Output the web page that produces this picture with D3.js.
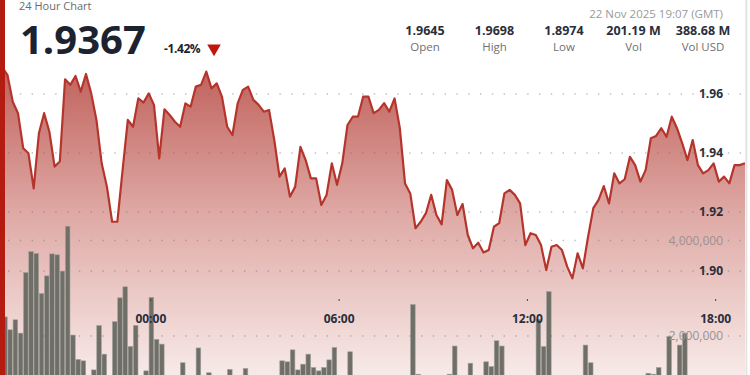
<!DOCTYPE html>
<html>
<head>
<meta charset="utf-8">
<script src="https://cdn.jsdelivr.net/npm/d3@7"></script>
<style>
  body { margin: 0; background: #fff; }
  svg { display: block; font-family: "Open Sans", sans-serif; }
</style>
</head>
<body>
<div id="chart"></div>
<script>
// price every 10 minutes
const prices = [
  1.9690, 1.9664, 1.9574, 1.9535, 1.9416, 1.9399, 1.9280, 1.9467, 1.9535, 1.9472,
  1.9354, 1.9371, 1.9650, 1.9631, 1.9661, 1.9608, 1.9668, 1.9602, 1.9512, 1.9365,
  1.9286, 1.9167, 1.9167, 1.9342, 1.9512, 1.9489, 1.9585, 1.9571, 1.9602, 1.9563,
  1.9382, 1.9548, 1.9529, 1.9506, 1.9489, 1.9568, 1.9557, 1.9625, 1.9631, 1.9676,
  1.9619, 1.9636, 1.9591, 1.9489, 1.9461, 1.9568, 1.9614, 1.9625, 1.9580, 1.9563,
  1.9540, 1.9546, 1.9444, 1.9320, 1.9348, 1.9252, 1.9286, 1.9421, 1.9376, 1.9314,
  1.9314, 1.9224, 1.9258, 1.9365, 1.9292, 1.9365, 1.9495, 1.9523, 1.9523, 1.9591,
  1.9591, 1.9535, 1.9546, 1.9569, 1.9540, 1.9585, 1.9485, 1.9297, 1.9263, 1.9145,
  1.9167, 1.9196, 1.9258, 1.9190, 1.9158, 1.9308, 1.9275, 1.9190, 1.9227, 1.9122,
  1.9077, 1.9096, 1.9063, 1.9071, 1.9150, 1.9162, 1.9263, 1.9275, 1.9258, 1.9229,
  1.9088, 1.9128, 1.9122, 1.9088, 1.9003, 1.9082, 1.9088, 1.9071, 1.9015, 1.8975,
  1.9060, 1.9009, 1.9116, 1.9213, 1.9241, 1.9288, 1.9229, 1.9331, 1.9297, 1.9311,
  1.9387, 1.9359, 1.9303, 1.9342, 1.9450, 1.9458, 1.9484, 1.9455, 1.9523, 1.9484,
  1.9433, 1.9376, 1.9444, 1.9359, 1.9331, 1.9342, 1.9365, 1.9303, 1.9320, 1.9297,
  1.9359, 1.9359, 1.9365
];

// volume per 10 minutes, millions
const volumes = [
  2.40, 2.13, 2.34, 2.06, 3.33, 3.77, 3.73, 2.89, 3.26, 3.72,
  3.70, 3.36, 4.30, 2.02, 1.51, 1.48, 0.95, 1.29, 2.22, 1.62,
  0.85, 2.30, 2.80, 3.03, 1.78, 2.22, 0.90, 1.27, 2.81, 1.93,
  1.83, 0.75, 0.80, 0.65, 1.44, 0.90, 0.70, 1.75, 0.80, 1.23,
  0.60, 0.90, 0.70, 1.30, 0.80, 0.60, 1.32, 0.50, 0.70, 0.60,
  0.80, 0.55, 0.90, 1.48, 1.46, 1.71, 1.29, 1.41, 1.62, 1.34,
  1.27, 1.34, 1.50, 1.76, 0.90, 0.80, 1.67, 0.70, 0.60, 0.85,
  0.50, 0.75, 0.65, 0.90, 0.55, 0.70, 0.80, 1.00, 2.66, 1.20,
  0.90, 0.70, 0.85, 0.60, 0.95, 1.20, 1.79, 0.90, 0.80, 1.43,
  0.95, 1.05, 1.46, 1.36, 1.90, 1.79, 0.90, 0.70, 0.85, 0.60,
  0.90, 1.00, 2.35, 1.78, 2.93, 0.95, 0.80, 0.70, 0.90, 1.05,
  0.85, 1.81, 1.44, 0.90, 0.70, 0.60, 0.85, 0.75, 0.90, 0.65,
  0.80, 0.70, 0.95, 1.22, 1.20, 1.34, 0.95, 1.99, 1.05, 1.81,
  2.06, 0.90, 0.80, 0.70, 0.95, 0.85, 0.75, 0.90, 1.00, 0.80,
  0.95, 0.85, 0.90
];

const startTime = new Date(2025, 10, 21, 19, 17);
const stepMinutes = 10;

const priceTicks = [1.90, 1.92, 1.94, 1.96];
const volumeTicks = [2000000, 4000000];
const timeTicks = ["00:00", "06:00", "12:00", "18:00"];

const statValues = ["1.9645", "1.9698", "1.8974", "201.19 M", "388.68 M"];
const statLabels = ["Open", "High", "Low", "Vol", "Vol USD"];

const lastPrice = "1.9367";
const change = "-1.42%";
const updated = "22 Nov 2025 19:07 (GMT)";

const width = 750, height = 375;

const data = prices.map((p, i) => ({
  t: d3.timeMinute.offset(startTime, i * stepMinutes),
  p: p,
  v: volumes[i] * 1e6
}));

const svg = d3.select("#chart").append("svg")
  .attr("width", width)
  .attr("height", height);

// scales
const xScale = d3.scaleTime()
  .domain([data[0].t, data[data.length - 1].t])
  .range([2.3, 745]);

const yScale = d3.scaleLinear()
  .domain([1.90, 1.96])
  .range([271, 94]);

const vScale = d3.scaleLinear()
  .domain([0, 4000000])
  .range([431.5, 240.5]);

const defs = svg.append("defs");
const grad = defs.append("linearGradient")
  .attr("id", "areaFill")
  .attr("gradientUnits", "userSpaceOnUse")
  .attr("x1", 0).attr("x2", 0)
  .attr("y1", 60).attr("y2", 380);
grad.append("stop").attr("offset", 0).attr("stop-color", "#bf5e58");
grad.append("stop").attr("offset", 0.5).attr("stop-color", "#e0aca8");
grad.append("stop").attr("offset", 1).attr("stop-color", "#f8ecea");

defs.append("clipPath").attr("id", "plotClip")
  .append("rect").attr("x", 0).attr("y", 0).attr("width", 745.5).attr("height", height);

const plot = svg.append("g").attr("clip-path", "url(#plotClip)");

// area
const area = d3.area()
  .x(d => xScale(d.t))
  .y0(height + 10)
  .y1(d => yScale(d.p));

plot.append("path")
  .datum(data)
  .attr("d", area)
  .attr("fill", "url(#areaFill)");

// dotted gridlines
const gridYs = priceTicks.map(yScale).concat(volumeTicks.map(vScale));
svg.append("g")
  .selectAll("line")
  .data(gridYs)
  .join("line")
  .attr("x1", 8).attr("x2", 742)
  .attr("y1", d => d).attr("y2", d => d)
  .attr("stroke", "rgba(110,110,110,0.45)")
  .attr("stroke-width", 1.4)
  .attr("stroke-dasharray", "1.4 10.4");

// price line
const line = d3.line()
  .x(d => xScale(d.t))
  .y(d => yScale(d.p));

plot.append("path")
  .datum(data)
  .attr("d", line)
  .attr("fill", "none")
  .attr("stroke", "#b5352c")
  .attr("stroke-width", 2.2)
  .attr("stroke-linejoin", "round");

// y axes (price bold, volume gray)
const priceAxis = svg.append("g")
  .attr("transform", "translate(723,0)")
  .call(d3.axisLeft(yScale).tickValues(priceTicks).tickFormat(d3.format(".2f")).tickSize(0).tickPadding(0));
priceAxis.select(".domain").remove();
priceAxis.selectAll("text")
  .attr("fill", "#2a2e3a")
  .style("font-size", "12px")
  .style("font-weight", "700")
  .style("font-family", "Open Sans");

const volAxis = svg.append("g")
  .attr("transform", "translate(723,0)")
  .call(d3.axisLeft(vScale).tickValues(volumeTicks).tickFormat(d3.format(",")).tickSize(0).tickPadding(0));
volAxis.select(".domain").remove();
volAxis.selectAll("text")
  .attr("fill", "#9b9391")
  .style("font-size", "12px")
  .style("font-family", "Open Sans");

// volume bars
const barW = xScale(d3.timeMinute.offset(startTime, stepMinutes)) - xScale(startTime);
plot.append("g")
  .selectAll("rect")
  .data(data)
  .join("rect")
  .attr("x", d => xScale(d.t) + 0.3)
  .attr("width", barW - 0.6)
  .attr("y", d => vScale(d.v))
  .attr("height", d => vScale(0) - vScale(d.v))
  .attr("fill", "#6f6f68")
  .attr("stroke", "#a3a39d")
  .attr("stroke-width", 0.6);

// time axis
const tickDates = timeTicks.map(s => new Date(2025, 10, 22, +s.slice(0, 2), +s.slice(3)));
const timeAxis = svg.append("g")
  .attr("transform", "translate(0,299)")
  .call(d3.axisBottom(xScale).tickValues(tickDates).tickFormat(d3.timeFormat("%H:%M")).tickSize(2).tickPadding(13.5));
timeAxis.select(".domain").remove();
timeAxis.selectAll("line").attr("stroke", "#444");
timeAxis.selectAll("text")
  .attr("fill", "#2a2e3a")
  .style("font-size", "12px")
  .style("font-weight", "700")
  .style("font-family", "Open Sans");

// borders
svg.append("rect").attr("x", 0).attr("y", 0).attr("width", 5).attr("height", height).attr("fill", "#b41c12");
svg.append("rect").attr("x", 745.5).attr("y", 0).attr("width", 1.8).attr("height", height).attr("fill", "#e2e2e2");

// header
svg.append("text")
  .attr("x", 19).attr("y", 9.5)
  .attr("fill", "#6b6b6b")
  .style("font-size", "11px")
  .text("24 Hour Chart");

svg.append("text")
  .attr("x", 20).attr("y", 53.5)
  .attr("fill", "#1c2230")
  .style("font-size", "40px")
  .style("font-weight", "700")
  .text(lastPrice);

svg.append("text")
  .attr("x", 164).attr("y", 52.5)
  .attr("fill", "#1c2230")
  .style("font-size", "12px")
  .style("font-weight", "700")
  .style("letter-spacing", "-0.4px")
  .text(change);

svg.append("path")
  .attr("d", d3.symbol(d3.symbolTriangle, 80)())
  .attr("transform", "translate(214,48.5) rotate(180)")
  .attr("fill", "#c0170d");

svg.append("text")
  .attr("x", 723).attr("y", 18.3)
  .attr("text-anchor", "end")
  .attr("fill", "#9a9a9a")
  .style("font-size", "11.5px")
  .text(updated);

const statX = d3.scalePoint().domain(statLabels).range([425, 703]);
const stats = svg.append("g")
  .selectAll("g")
  .data(statLabels.map((l, i) => ({label: l, value: statValues[i]})))
  .join("g")
  .attr("transform", d => `translate(${statX(d.label)},0)`);

stats.append("text")
  .attr("y", 35)
  .attr("text-anchor", "middle")
  .attr("fill", "#2a2e3a")
  .style("font-size", "12.5px")
  .style("font-weight", "700")
  .text(d => d.value);

stats.append("text")
  .attr("y", 50.5)
  .attr("text-anchor", "middle")
  .attr("fill", "#707070")
  .style("font-size", "11.5px")
  .text(d => d.label);
</script>
</body>
</html>
